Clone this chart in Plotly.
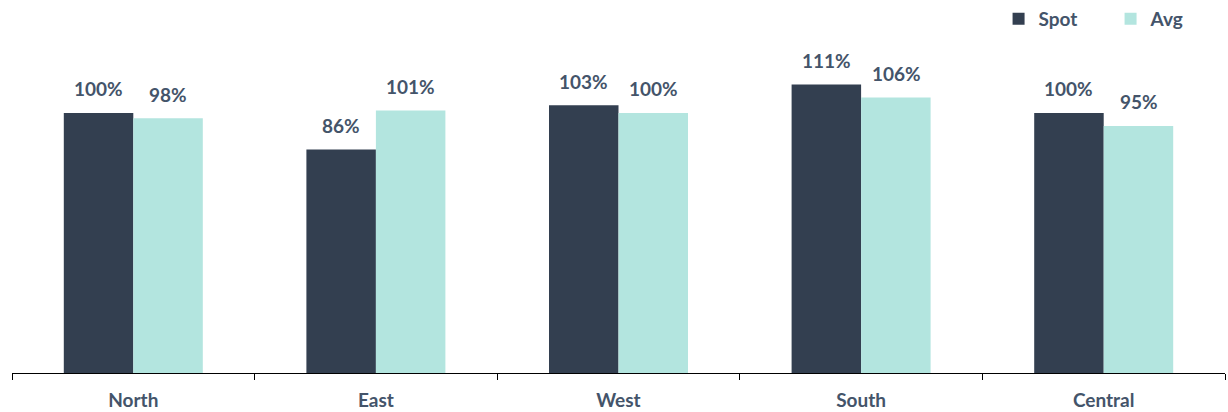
import plotly.graph_objects as go

categories = ["North", "East", "West", "South", "Central"]
spot = [100, 86, 103, 111, 100]
avg = [98, 101, 100, 106, 95]

DARK = "#333F50"
LIGHT = "#B3E5DF"
TXT = "#44546A"
FONT = "Lato"

fig = go.Figure()
fig.add_trace(go.Bar(name="Spot", x=categories, y=spot, marker_color=DARK, marker_line_width=0))
fig.add_trace(go.Bar(name="Avg", x=categories, y=avg, marker_color=LIGHT, marker_line_width=0))

annotations = []
for c, s, a in zip(categories, spot, avg):
    for v, dx in ((s, -35), (a, 35)):
        annotations.append(dict(x=c, y=v, xref="x", yref="y", text=f"<b>{v}%</b>",
                                showarrow=False, xshift=dx, yshift=24,
                                font=dict(family=FONT, size=19, color=TXT)))

fig.update_layout(
    width=1228, height=412,
    margin=dict(l=12, r=3, t=30, b=39, autoexpand=False),
    paper_bgcolor="white", plot_bgcolor="white",
    barmode="group", bargap=0.427, bargroupgap=0,
    font=dict(family=FONT, color=TXT),
    showlegend=True,
    legend=dict(orientation="h", x=0.998, xanchor="right", y=1.0, yanchor="top",
                yref="container",
                font=dict(family=FONT, size=19, color=TXT, weight="bold"),
                itemwidth=30, tracegroupgap=0, bgcolor="rgba(0,0,0,0)",
                entrywidth=67, entrywidthmode="pixels"),
    annotations=annotations,
    xaxis=dict(showline=True, linecolor="#000000", linewidth=1, ticks="outside",
               tickson="boundaries", ticklen=6, tickcolor="#000000",
               ticklabelstandoff=10,
               tickfont=dict(family=FONT, size=19, color=TXT, weight="bold"),
               showgrid=False, zeroline=False),
    yaxis=dict(range=[0, 131.92], visible=False, showgrid=False, zeroline=False),
)

fig.write_html("out.html")
